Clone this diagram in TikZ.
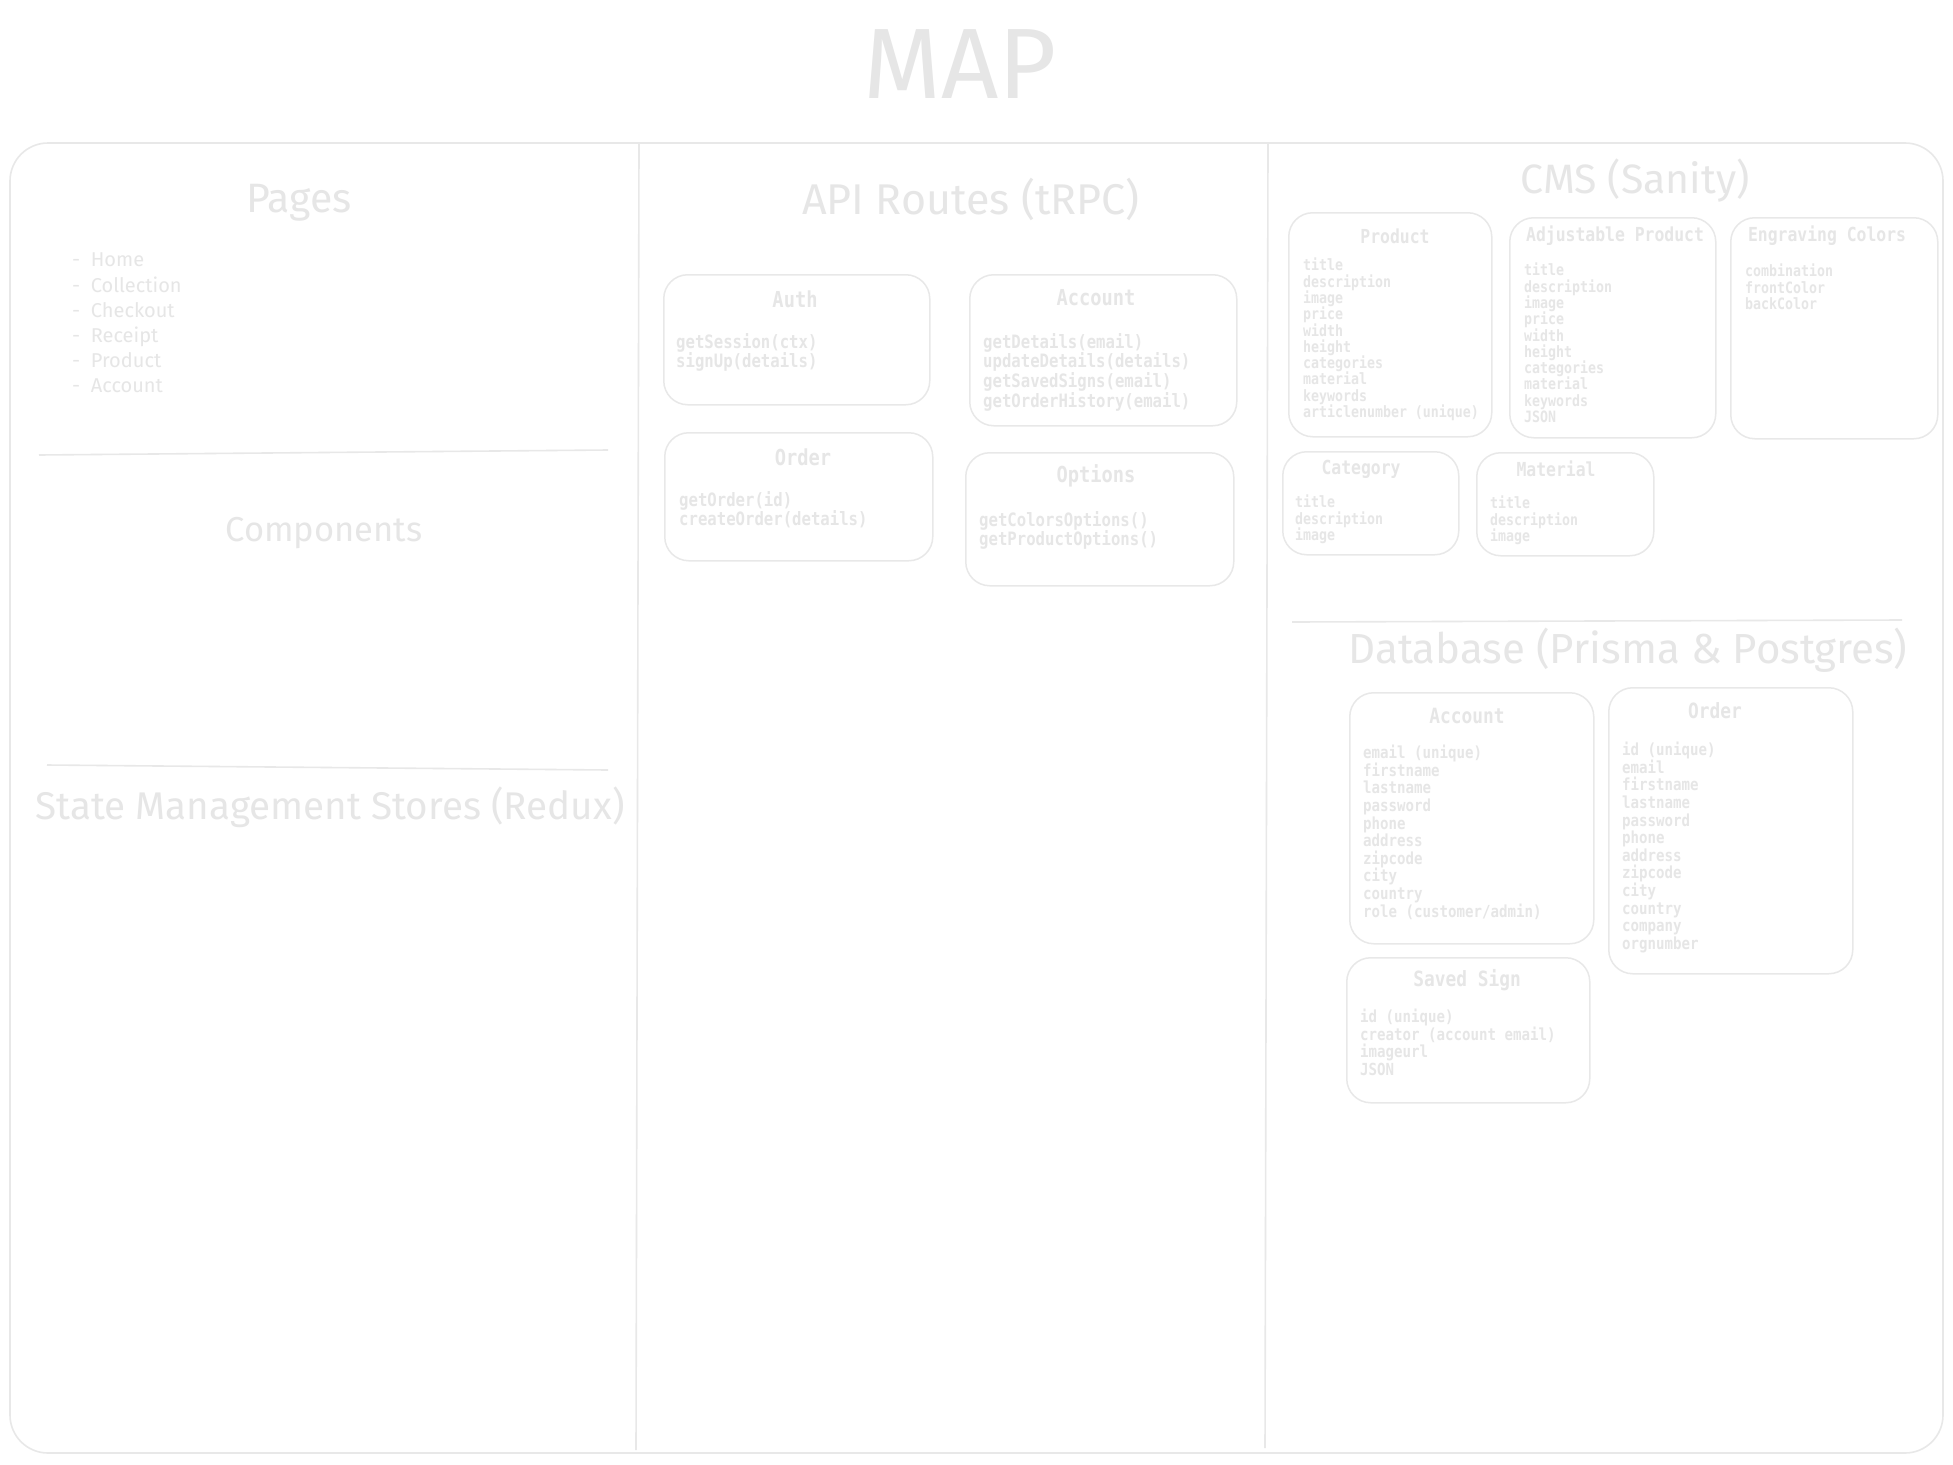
\documentclass[tikz,border=0pt]{standalone}
\usepackage{fontspec}
\usepackage{xcolor}
\usepackage{tikz}
\usetikzlibrary{positioning}
\newfontfamily\handfont{Fira Sans}
\newfontfamily\codefont[FakeStretch=0.85]{DejaVu Sans Mono}
\definecolor{ink}{HTML}{E8E8E8}
\definecolor{inktext}{HTML}{E6E6E6}

\begin{document}
\begin{tikzpicture}[x=1pt,y=-1pt,
  box/.style={draw=ink,line width=1.5pt,rounded corners=24pt,anchor=north west,inner sep=0pt},
  frame/.style={draw=ink,line width=1.6pt},
  heading/.style={text=inktext,font=\handfont\fontsize{#1}{#1}\selectfont},
  heading/.default=38,
  pagelist/.style={text=inktext,align=left,anchor=north west,inner sep=0pt,font=\handfont\fontsize{20}{25.2}\selectfont},
  apititle/.style={text=inktext,font=\codefont\bfseries\fontsize{22}{24}\selectfont},
  apibody/.style={text=inktext,align=left,anchor=north west,inner sep=0pt,font=\codefont\bfseries\fontsize{18.4}{19.8}\selectfont},
  cmstitle/.style={text=inktext,font=\codefont\bfseries\fontsize{19.3}{21}\selectfont},
  cmsbody/.style={text=inktext,align=left,anchor=north west,inner sep=0pt,font=\codefont\bfseries\fontsize{15.6}{16.3}\selectfont},
  dbtitle/.style={text=inktext,font=\codefont\bfseries\fontsize{21}{23}\selectfont},
  dbbody/.style={text=inktext,align=left,anchor=north west,inner sep=0pt,font=\codefont\bfseries\fontsize{16.6}{17.6}\selectfont}]
\fill[white] (0,0) rectangle (1953,1464);
\useasboundingbox (0,0) rectangle (1953,1464);

\node[text=inktext,font=\handfont\fontsize{100}{100}\selectfont] (map) at (960,64) {MAP};

\draw[frame,rounded corners=38pt] (10,143) rectangle (1943,1453);
\draw[frame] (639,143) -- (636,1450);
\draw[frame] (1268,143) -- (1265,1448);

% pages, components, stores
\node[heading=41] (pages) at (299,203) {Pages};
\node[pagelist] (pageList) at (72,253) {-\ \ Home\\-\ \ Collection\\-\ \ Checkout\\-\ \ Receipt\\-\ \ Product\\-\ \ Account};
\draw[frame] (39,455) -- (608,450);
\node[heading=34.5] (components) at (324,533) {Components};
\draw[frame] (47,765) -- (608,770);
\node[heading=38.6] (stores) at (330,807) {State Management Stores (Redux)};

% api routes
\node[heading=43] (api) at (971,199) {API Routes (tRPC)};
\node[box,minimum width=266pt,minimum height=130pt] (apiAuth) at (663,274) {};
\node[apititle] (apiAuthTitle) at (795,299) {Auth};
\node[apibody] (apiAuthBody) at (676,333) {getSession(ctx)\\signUp(details)};
\node[box,minimum width=267pt,minimum height=151pt] (apiAccount) at (969,274) {};
\node[apititle] (apiAccountTitle) at (1096,298) {Account};
\node[apibody] (apiAccountBody) at (983,333) {getDetails(email)\\updateDetails(details)\\getSavedSigns(email)\\getOrderHistory(email)};
\node[box,minimum width=268pt,minimum height=128pt] (apiOrder) at (664,432) {};
\node[apititle] (apiOrderTitle) at (803,457) {Order};
\node[apibody] (apiOrderBody) at (679,491) {getOrder(id)\\createOrder(details)};
\node[box,minimum width=268pt,minimum height=133pt] (apiOptions) at (965,452) {};
\node[apititle] (apiOptionsTitle) at (1096,476) {Options};
\node[apibody] (apiOptionsBody) at (979,511) {getColorsOptions()\\getProductOptions()};

% cms
\node[heading=41] (cms) at (1635,181) {CMS (Sanity)};
\node[box,minimum width=203pt,minimum height=224pt] (cmsProduct) at (1288,212) {};
\node[cmstitle] (cmsProductTitle) at (1395,236) {Product};
\node[cmsbody] (cmsProductBody) at (1303,258) {title\\description\\image\\price\\width\\height\\categories\\material\\keywords\\articlenumber (unique)};
\node[box,minimum width=206pt,minimum height=220pt] (cmsAdjustable) at (1509,217) {};
\node[cmstitle] (cmsAdjustableTitle) at (1615,236) {Adjustable Product};
\node[cmsbody] (cmsAdjustableBody) at (1524,263) {title\\description\\image\\price\\width\\height\\categories\\material\\keywords\\JSON};
\node[box,minimum width=207pt,minimum height=221pt] (cmsEngraving) at (1730,217) {};
\node[cmstitle] (cmsEngravingTitle) at (1827,236) {Engraving Colors};
\node[cmsbody] (cmsEngravingBody) at (1745,264) {combination\\frontColor\\backColor};
\node[box,minimum width=176pt,minimum height=103pt] (cmsCategory) at (1282,451) {};
\node[cmstitle] (cmsCategoryTitle) at (1361,469) {Category};
\node[cmsbody] (cmsCategoryBody) at (1295,495) {title\\description\\image};
\node[box,minimum width=177pt,minimum height=103pt] (cmsMaterial) at (1476,452) {};
\node[cmstitle] (cmsMaterialTitle) at (1556,469) {Material};
\node[cmsbody] (cmsMaterialBody) at (1490,496) {title\\description\\image};

% database
\draw[frame] (1292,622) -- (1902,620);
\node[heading=42] (db) at (1628,650) {Database (Prisma \& Postgres)};
\node[box,minimum width=244pt,minimum height=251pt] (dbAccount) at (1349,692) {};
\node[dbtitle] (dbAccountTitle) at (1467,716) {Account};
\node[dbbody] (dbAccountBody) at (1363,745) {email (unique)\\firstname\\lastname\\password\\phone\\address\\zipcode\\city\\country\\role (customer/admin)};
\node[box,minimum width=244pt,minimum height=286pt] (dbOrder) at (1608,687) {};
\node[dbtitle] (dbOrderTitle) at (1715,711) {Order};
\node[dbbody] (dbOrderBody) at (1622,742) {id (unique)\\email\\firstname\\lastname\\password\\phone\\address\\zipcode\\city\\country\\company\\orgnumber};
\node[box,minimum width=243pt,minimum height=145pt] (dbSavedSign) at (1346,957) {};
\node[dbtitle] (dbSavedSignTitle) at (1467,980) {Saved Sign};
\node[dbbody] (dbSavedSignBody) at (1360,1009) {id (unique)\\creator (account email)\\imageurl\\JSON};
\end{tikzpicture}
\end{document}
